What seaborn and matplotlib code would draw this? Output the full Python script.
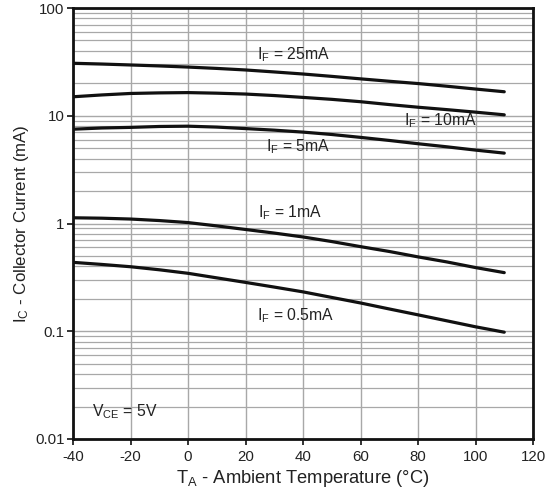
import matplotlib
matplotlib.use("Agg")
import matplotlib.pyplot as plt
import matplotlib.ticker as mticker
import numpy as np
import pandas as pd
import seaborn as sns

temps = [-40, -30, -20, -10, 0, 10, 20, 30, 40, 50, 60, 70, 80, 90, 100, 110]
ic_25 = [30.7, 30.2, 29.6, 29.0, 28.3, 27.5, 26.6, 25.5, 24.4, 23.2, 22.0, 20.9, 19.9, 18.8, 17.7, 16.7]
ic_10 = [15.0, 15.6, 16.1, 16.3, 16.4, 16.2, 15.9, 15.4, 14.8, 14.2, 13.5, 12.7, 12.0, 11.4, 10.8, 10.2]
ic_5 = [7.5, 7.7, 7.8, 7.95, 8.0, 7.85, 7.6, 7.35, 7.05, 6.7, 6.3, 5.9, 5.5, 5.15, 4.8, 4.5]
ic_1 = [1.13, 1.12, 1.10, 1.065, 1.02, 0.95, 0.88, 0.815, 0.75, 0.68, 0.61, 0.55, 0.49, 0.44, 0.39, 0.35]
ic_05 = [0.436, 0.417, 0.397, 0.372, 0.345, 0.313, 0.284, 0.257, 0.232, 0.206, 0.183, 0.161, 0.142, 0.125, 0.110, 0.098]
series_names = ["25mA", "10mA", "5mA", "1mA", "0.5mA"]
series_vals = [ic_25, ic_10, ic_5, ic_1, ic_05]

labels = ["$\\mathregular{I_F}$ = 25mA", "$\\mathregular{I_F}$ = 10mA", "$\\mathregular{I_F}$ = 5mA",
          "$\\mathregular{I_F}$ = 1mA", "$\\mathregular{I_F}$ = 0.5mA"]
label_pos = [(24, 36.6), (75, 9.0), (27, 5.16), (24.5, 1.26), (24.1, 0.139)]

xticks = [-40, -20, 0, 20, 40, 60, 80, 100, 120]
yticks = [0.01, 0.1, 1, 10, 100]
ytick_labels = ["0.01", "0.1", "1", "10", "100"]

rows = []
for name, vals in zip(series_names, series_vals):
    for t, v in zip(temps, vals):
        rows.append({"T": t, "Ic": v, "IF": name})
df = pd.DataFrame(rows)

sns.set_theme(style="white")
plt.rcParams["font.family"] = ["Liberation Sans", "DejaVu Sans"]
plt.rcParams["mathtext.fontset"] = "custom"
plt.rcParams["mathtext.rm"] = "Liberation Sans"
plt.rcParams["mathtext.it"] = "Liberation Sans"
plt.rcParams["axes.unicode_minus"] = False

fig = plt.figure(figsize=(5.51, 4.96), dpi=100)
ax = fig.add_axes([73/551, 1-439/496, (533-73)/551, (439-8)/496])

sns.lineplot(data=df, x="T", y="Ic", hue="IF", palette=["#111111"]*5,
             legend=False, linewidth=2.3, ax=ax, estimator=None, sort=True)

ax.set_yscale("log")
ax.set_xlim(-40, 120)
ax.set_ylim(0.01, 100)
ax.xaxis.set_major_locator(mticker.FixedLocator(xticks))
ax.yaxis.set_major_locator(mticker.FixedLocator(yticks))
ax.yaxis.set_major_formatter(mticker.FixedFormatter(ytick_labels))
ax.yaxis.set_minor_locator(mticker.LogLocator(base=10, subs=np.arange(2, 10)))
ax.yaxis.set_minor_formatter(mticker.NullFormatter())

ax.grid(True, which="major", axis="both", color="#a8a8a8", linewidth=1.0)
ax.grid(True, which="minor", axis="y", color="#a8a8a8", linewidth=0.9)
ax.set_axisbelow(True)

for s in ax.spines.values():
    s.set_color("#111111")
    s.set_linewidth(2.0)

ax.tick_params(axis="both", which="major", direction="out", length=4, width=1.2,
               color="#111111", labelsize=10.8, labelcolor="#222222", pad=2,
               left=True, bottom=True)
ax.tick_params(axis="x", which="major", pad=4)
ax.tick_params(axis="y", which="minor", left=False)

ax.set_xlabel("$\\mathregular{T_A}$ - Ambient Temperature (°C)", fontsize=13.2, color="#222222", labelpad=3)
ax.set_ylabel("$\\mathregular{I_C}$ - Collector Current (mA)", fontsize=12.2, color="#222222", labelpad=3)

for txt, (x, y) in zip(labels, label_pos):
    ax.text(x, y, txt, fontsize=11.3, color="#222222", ha="left", va="center")
ax.text(-33.3, 0.0179, "$\\mathregular{V_{CE}}$ = 5V", fontsize=11.3, color="#222222", ha="left", va="center")

fig.savefig("out.png", dpi=100)
